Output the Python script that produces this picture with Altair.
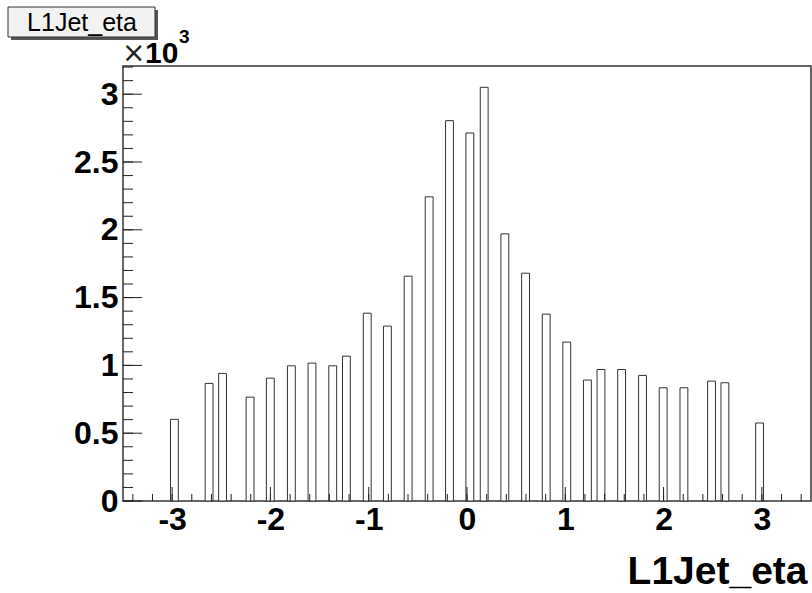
import altair as alt
import pandas as pd

# --- data ---
centers = [-2.977, -2.624, -2.487, -2.207, -2.001, -1.787, -1.577, -1.366, -1.227,
           -1.015, -0.810, -0.599, -0.385, -0.178, 0.029, 0.175, 0.385, 0.596,
           0.806, 1.015, 1.225, 1.363, 1.573, 1.786, 1.996, 2.207, 2.488, 2.624, 2.977]
counts = [602, 867, 941, 766, 906, 997, 1017, 997, 1068, 1385, 1290, 1658, 2243,
          2805, 2714, 3051, 1970, 1680, 1378, 1172, 892, 970, 970, 926, 835, 835,
          884, 872, 575]
bin_width = 0.08

x_major = [-3, -2, -1, 0, 1, 2, 3]
x_minor = [round(-3.4 + 0.2 * i, 2) for i in range(35)]
y_major = [0, 500, 1000, 1500, 2000, 2500, 3000]
y_minor = [100 * i for i in range(33)]

W, H = 688, 435

hist = pd.DataFrame({
    "lo": [c - bin_width / 2 for c in centers],
    "hi": [c + bin_width / 2 for c in centers],
    "count": counts,
})

xs = alt.Scale(domain=[-3.5, 3.5], nice=False, zero=False)
ys = alt.Scale(domain=[0, 3208], nice=False)

bars = alt.Chart(hist).mark_rect(fill="white", stroke="#333", strokeWidth=1).encode(
    x=alt.X("lo:Q", scale=xs, axis=alt.Axis(
        values=x_major, ticks=False, tickSize=0, domain=False, grid=False,
        labelExpr="datum.value < 0 ? '-' + abs(datum.value) : '' + datum.value",
        labelFont="Liberation Sans", labelFontWeight="bold", labelFontSize=32,
        labelColor="black", labelPadding=3, labelBaseline="top",
        title="L1Jet_eta", titleFont="Liberation Sans", titleFontWeight="bold",
        titleFontSize=39, titleColor="black", titleAlign="right", titleAnchor="end",
        titleBaseline="alphabetic", titleX=684, titleY=82)),
    x2="hi:Q",
    y=alt.Y("count:Q", scale=ys, axis=alt.Axis(
        values=y_major, ticks=False, tickSize=0, domain=False, grid=False,
        labelExpr="'' + datum.value / 1000",
        labelFont="Liberation Sans", labelFontWeight="bold", labelFontSize=32,
        labelColor="black", labelPadding=5, title=None)),
    y2=alt.datum(0),
)

xmaj = alt.Chart(pd.DataFrame({"v": x_major})).mark_rule(color="#222", strokeWidth=1).encode(
    x=alt.X("v:Q", scale=xs), y=alt.value(H), y2=alt.value(H - 14))
xmin = alt.Chart(pd.DataFrame({"v": x_minor})).mark_rule(color="#222", strokeWidth=1).encode(
    x=alt.X("v:Q", scale=xs), y=alt.value(H), y2=alt.value(H - 7))
ymaj = alt.Chart(pd.DataFrame({"v": y_major})).mark_rule(color="#222", strokeWidth=1).encode(
    y=alt.Y("v:Q", scale=ys), x=alt.value(0), x2=alt.value(19))
ymin = alt.Chart(pd.DataFrame({"v": y_minor})).mark_rule(color="#222", strokeWidth=1).encode(
    y=alt.Y("v:Q", scale=ys), x=alt.value(0), x2=alt.value(10))

# title box (ROOT-style pave)
shadow = alt.Chart(pd.DataFrame({"a": [0]})).mark_rect(fill="#555").encode(
    x=alt.value(-112), x2=alt.value(35), y=alt.value(-56), y2=alt.value(-26))
box = alt.Chart(pd.DataFrame({"a": [0]})).mark_rect(fill="#f2f2f2", stroke="#333", strokeWidth=1).encode(
    x=alt.value(-115), x2=alt.value(32), y=alt.value(-59), y2=alt.value(-29))
box_text = alt.Chart(pd.DataFrame({"t": ["L1Jet_eta"]})).mark_text(
    font="Liberation Sans", fontSize=25, color="black", align="center", baseline="middle").encode(
    text="t:N", x=alt.value(-41), y=alt.value(-43))

# x10^3 multiplier
times = alt.Chart(pd.DataFrame({"t": ["×"]})).mark_text(
    font="DejaVu Sans", fontSize=28, color="#222", align="left", baseline="alphabetic").encode(
    text="t:N", x=alt.value(-1), y=alt.value(-4))
ten = alt.Chart(pd.DataFrame({"t": ["10"]})).mark_text(
    font="Liberation Sans", fontSize=30, fontWeight="bold", color="black", align="left",
    baseline="alphabetic").encode(text="t:N", x=alt.value(22), y=alt.value(-3))
three = alt.Chart(pd.DataFrame({"t": ["3"]})).mark_text(
    font="Liberation Sans", fontSize=19, fontWeight="bold", color="black", align="left",
    baseline="alphabetic").encode(text="t:N", x=alt.value(56), y=alt.value(-23))

chart = alt.layer(bars, xmaj, xmin, ymaj, ymin, shadow, box, box_text, times, ten, three).properties(
    width=W, height=H,
    autosize=alt.AutoSizeParams(type="none"),
    padding={"left": 123, "top": 66, "right": 1, "bottom": 92},
    background="white",
).configure_view(stroke="#333", strokeWidth=1.5)

chart.save("out.html", embed_options={"renderer": "svg", "actions": False})
